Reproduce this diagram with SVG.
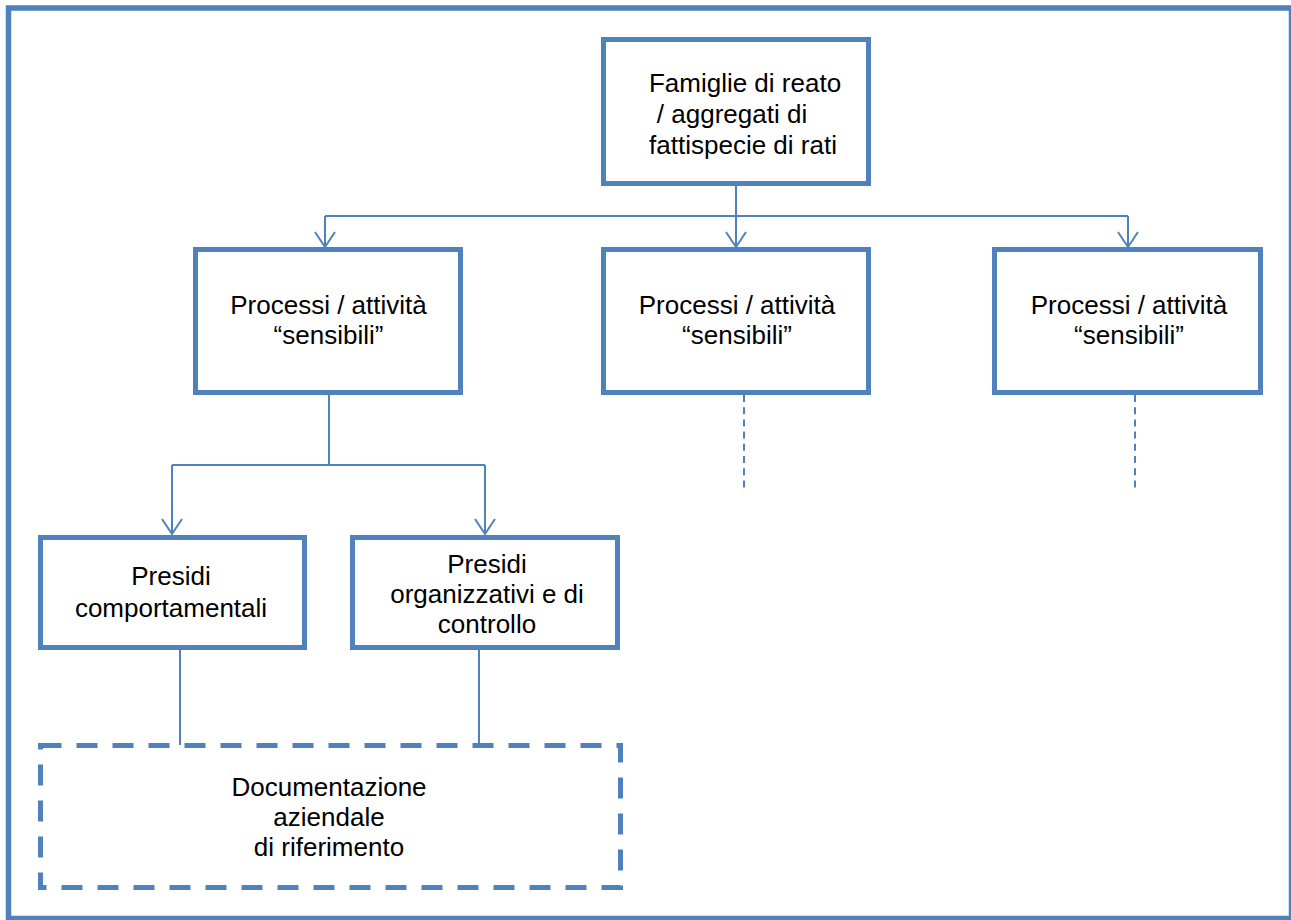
<svg xmlns="http://www.w3.org/2000/svg" width="1291" height="920" viewBox="0 0 1291 920">
<defs>
<style>
.box{fill:#fff;stroke:#4F81BD;stroke-width:5}
.dbox{fill:#fff;stroke:#4F81BD;stroke-width:5;stroke-dasharray:21 15}
.con{fill:none;stroke:#4F81BD;stroke-width:2}
.dot{fill:none;stroke:#4F81BD;stroke-width:2;stroke-dasharray:7 5.2}
.t{font-family:"Liberation Sans",Arial,sans-serif;font-size:26px;fill:#000;text-anchor:middle}
</style>
<marker id="arr" markerUnits="userSpaceOnUse" viewBox="-16 -11 18 22" refX="0" refY="0" markerWidth="18" markerHeight="22" orient="auto" overflow="visible">
<path d="M-15,-10 L0,0 L-15,10" fill="none" stroke="#4F81BD" stroke-width="2"/>
</marker>
</defs>
<rect x="0" y="0" width="1291" height="920" fill="#fff"/>
<rect id="frame" x="8.5" y="8" width="1283" height="910.5" fill="none" stroke="#4F81BD" stroke-width="5.5"/>
<g id="connectors">
<path class="con" d="M736 186 V216"/>
<path class="con" d="M325 216 H1128"/>
<path class="con" d="M325 216 V247" marker-end="url(#arr)"/>
<path class="con" d="M736 216 V247" marker-end="url(#arr)"/>
<path class="con" d="M1128 216 V247" marker-end="url(#arr)"/>
<path class="con" d="M329 395 V465"/>
<path class="con" d="M172 465 H485"/>
<path class="con" d="M172 465 V534" marker-end="url(#arr)"/>
<path class="con" d="M485 465 V534" marker-end="url(#arr)"/>
<path class="con" d="M180 650 V745"/>
<path class="con" d="M479 650 V745"/>
<path class="dot" d="M744 395 V488"/>
<path class="dot" d="M1135 395 V488"/>
</g>
<g id="famiglie">
<rect class="box" x="603.5" y="39.5" width="265" height="144"/>
<text class="t" x="745" y="92">Famiglie di reato</text>
<text class="t" x="732" y="123">/ aggregati di</text>
<text class="t" x="743" y="154">fattispecie di rati</text>
</g>
<g id="processi1">
<rect class="box" x="195.5" y="249.5" width="265" height="143"/>
<text class="t" x="328.5" y="314">Processi / attività</text>
<text class="t" x="328.5" y="344">“sensibili”</text>
</g>
<g id="processi2">
<rect class="box" x="603.5" y="249.5" width="265" height="143"/>
<text class="t" x="737" y="314">Processi / attività</text>
<text class="t" x="737" y="344">“sensibili”</text>
</g>
<g id="processi3">
<rect class="box" x="994.5" y="249.5" width="266" height="143"/>
<text class="t" x="1129" y="314">Processi / attività</text>
<text class="t" x="1129" y="344">“sensibili”</text>
</g>
<g id="presidi-comportamentali">
<rect class="box" x="40.5" y="537.5" width="264" height="110"/>
<text class="t" x="171" y="585">Presidi</text>
<text class="t" x="171" y="617">comportamentali</text>
</g>
<g id="presidi-organizzativi">
<rect class="box" x="352.5" y="537.5" width="265" height="110"/>
<text class="t" x="487" y="573">Presidi</text>
<text class="t" x="487" y="603">organizzativi e di</text>
<text class="t" x="487" y="633">controllo</text>
</g>
<g id="documentazione">
<rect class="dbox" x="40.5" y="745.5" width="580" height="142"/>
<text class="t" x="329" y="796">Documentazione</text>
<text class="t" x="329" y="826">aziendale</text>
<text class="t" x="329" y="856">di riferimento</text>
</g>
</svg>
